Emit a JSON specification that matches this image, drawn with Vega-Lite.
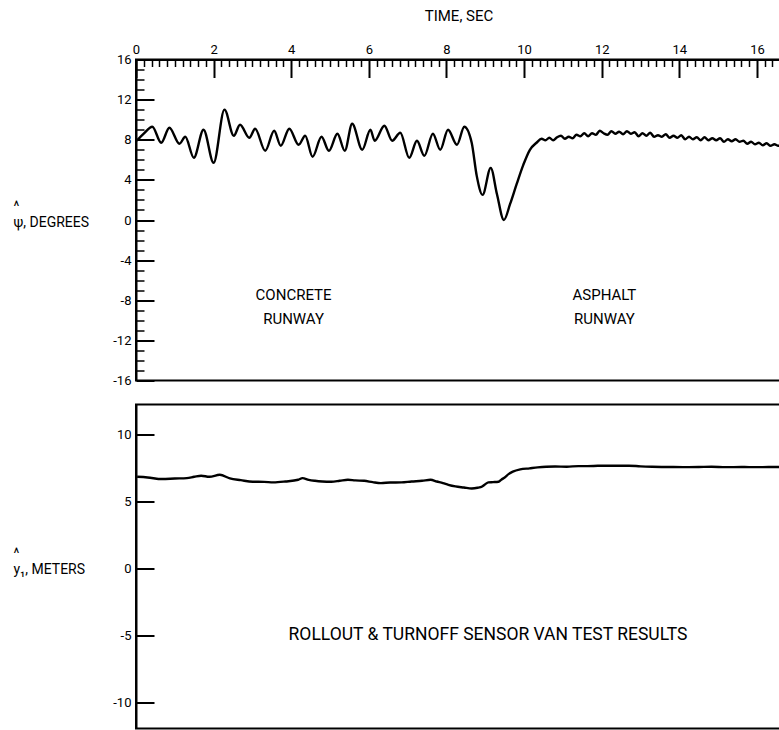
{
  "$schema": "https://vega.github.io/schema/vega-lite/v6.json",
  "background": "white",
  "padding": {"left": 12, "top": 7.5, "right": 0, "bottom": 0},
  "spacing": 15,
  "config": {
    "font": "Roboto, DejaVu Sans, sans-serif",
    "view": {"stroke": "black", "strokeWidth": 2},
    "axis": {
      "grid": false,
      "domainColor": "black",
      "domainWidth": 2,
      "tickColor": "black",
      "tickWidth": 2,
      "labelColor": "black",
      "titleColor": "black",
      "labelFont": "Roboto, DejaVu Sans, sans-serif",
      "titleFont": "Roboto, DejaVu Sans, sans-serif",
      "titleFontWeight": "normal",
      "labelFontSize": 13,
      "titleFontSize": 14
    },
    "text": {"font": "Roboto, DejaVu Sans, sans-serif"}
  },
  "datasets": {
    "psi": [
      {"t": 0.02, "psi": 7.9}, {"t": 0.2, "psi": 8.6}, {"t": 0.42, "psi": 9.3}, {"t": 0.65, "psi": 7.7},
      {"t": 0.86, "psi": 9.2}, {"t": 1.12, "psi": 7.6}, {"t": 1.27, "psi": 8.3}, {"t": 1.49, "psi": 6.2},
      {"t": 1.74, "psi": 9.0}, {"t": 2.0, "psi": 5.7}, {"t": 2.28, "psi": 11.0}, {"t": 2.52, "psi": 8.4},
      {"t": 2.68, "psi": 9.5}, {"t": 2.92, "psi": 8.2}, {"t": 3.07, "psi": 9.1}, {"t": 3.33, "psi": 6.9},
      {"t": 3.56, "psi": 8.9}, {"t": 3.73, "psi": 7.4}, {"t": 3.95, "psi": 9.1}, {"t": 4.19, "psi": 7.5},
      {"t": 4.36, "psi": 8.4}, {"t": 4.55, "psi": 6.3}, {"t": 4.78, "psi": 8.3}, {"t": 4.97, "psi": 6.9},
      {"t": 5.19, "psi": 8.6}, {"t": 5.38, "psi": 6.9}, {"t": 5.57, "psi": 9.6}, {"t": 5.83, "psi": 7.0},
      {"t": 6.04, "psi": 9.0}, {"t": 6.15, "psi": 7.9}, {"t": 6.4, "psi": 9.4}, {"t": 6.6, "psi": 7.9},
      {"t": 6.81, "psi": 8.7}, {"t": 7.04, "psi": 6.2}, {"t": 7.24, "psi": 7.9}, {"t": 7.43, "psi": 6.4},
      {"t": 7.65, "psi": 8.6}, {"t": 7.84, "psi": 7.0}, {"t": 8.04, "psi": 9.0}, {"t": 8.27, "psi": 7.5},
      {"t": 8.46, "psi": 9.3}, {"t": 8.65, "psi": 7.7}, {"t": 8.78, "psi": 4.4}, {"t": 8.93, "psi": 2.5},
      {"t": 9.14, "psi": 5.2}, {"t": 9.3, "psi": 2.6}, {"t": 9.48, "psi": 0.0}, {"t": 9.64, "psi": 1.6},
      {"t": 9.81, "psi": 3.6}, {"t": 9.98, "psi": 5.5}, {"t": 10.15, "psi": 7.0}, {"t": 10.32, "psi": 7.7},
      {"t": 10.45, "psi": 8.1}, {"t": 10.55, "psi": 7.95}, {"t": 10.65, "psi": 8.2}, {"t": 10.75, "psi": 7.95},
      {"t": 10.85, "psi": 8.25}, {"t": 10.95, "psi": 8.4}, {"t": 11.05, "psi": 8.1}, {"t": 11.15, "psi": 8.3},
      {"t": 11.25, "psi": 8.15}, {"t": 11.35, "psi": 8.5}, {"t": 11.45, "psi": 8.35}, {"t": 11.55, "psi": 8.65},
      {"t": 11.65, "psi": 8.35}, {"t": 11.75, "psi": 8.65}, {"t": 11.85, "psi": 8.5}, {"t": 11.95, "psi": 8.9},
      {"t": 12.05, "psi": 8.65}, {"t": 12.15, "psi": 8.5}, {"t": 12.25, "psi": 8.85}, {"t": 12.35, "psi": 8.6},
      {"t": 12.45, "psi": 8.8}, {"t": 12.55, "psi": 8.55}, {"t": 12.65, "psi": 8.85}, {"t": 12.75, "psi": 8.6},
      {"t": 12.85, "psi": 8.75}, {"t": 12.95, "psi": 8.35}, {"t": 13.05, "psi": 8.65}, {"t": 13.15, "psi": 8.4},
      {"t": 13.25, "psi": 8.7}, {"t": 13.35, "psi": 8.3}, {"t": 13.45, "psi": 8.45}, {"t": 13.55, "psi": 8.3},
      {"t": 13.65, "psi": 8.55}, {"t": 13.75, "psi": 8.2}, {"t": 13.85, "psi": 8.4}, {"t": 13.95, "psi": 8.2},
      {"t": 14.05, "psi": 8.45}, {"t": 14.15, "psi": 8.05}, {"t": 14.25, "psi": 8.3}, {"t": 14.35, "psi": 8.05},
      {"t": 14.45, "psi": 8.25}, {"t": 14.55, "psi": 7.95}, {"t": 14.65, "psi": 8.25}, {"t": 14.75, "psi": 7.95},
      {"t": 14.85, "psi": 8.15}, {"t": 14.95, "psi": 7.95}, {"t": 15.05, "psi": 8.15}, {"t": 15.15, "psi": 7.8},
      {"t": 15.25, "psi": 8.05}, {"t": 15.35, "psi": 7.85}, {"t": 15.45, "psi": 8.05}, {"t": 15.55, "psi": 7.8},
      {"t": 15.65, "psi": 7.9}, {"t": 15.75, "psi": 7.6}, {"t": 15.85, "psi": 7.8}, {"t": 15.95, "psi": 7.55},
      {"t": 16.05, "psi": 7.7}, {"t": 16.15, "psi": 7.45}, {"t": 16.25, "psi": 7.65}, {"t": 16.35, "psi": 7.4},
      {"t": 16.45, "psi": 7.55}, {"t": 16.55, "psi": 7.4}, {"t": 16.62, "psi": 7.5}
    ],
    "y1": [
      {"t": 0.03, "y": 6.85}, {"t": 0.3, "y": 6.8}, {"t": 0.67, "y": 6.68}, {"t": 1.0, "y": 6.72},
      {"t": 1.31, "y": 6.75}, {"t": 1.5, "y": 6.85}, {"t": 1.68, "y": 6.93}, {"t": 1.89, "y": 6.85},
      {"t": 2.16, "y": 7.0}, {"t": 2.42, "y": 6.73}, {"t": 2.7, "y": 6.6}, {"t": 3.01, "y": 6.48},
      {"t": 3.3, "y": 6.47}, {"t": 3.54, "y": 6.43}, {"t": 3.85, "y": 6.5}, {"t": 4.18, "y": 6.63},
      {"t": 4.29, "y": 6.75}, {"t": 4.45, "y": 6.62}, {"t": 4.61, "y": 6.55}, {"t": 4.8, "y": 6.5},
      {"t": 5.03, "y": 6.48}, {"t": 5.25, "y": 6.55}, {"t": 5.46, "y": 6.63}, {"t": 5.65, "y": 6.58},
      {"t": 5.88, "y": 6.55}, {"t": 6.1, "y": 6.45}, {"t": 6.31, "y": 6.38}, {"t": 6.55, "y": 6.42},
      {"t": 6.84, "y": 6.43}, {"t": 7.1, "y": 6.5}, {"t": 7.37, "y": 6.55}, {"t": 7.59, "y": 6.63},
      {"t": 7.75, "y": 6.5}, {"t": 7.91, "y": 6.38}, {"t": 8.05, "y": 6.25}, {"t": 8.23, "y": 6.13},
      {"t": 8.45, "y": 6.05}, {"t": 8.65, "y": 5.98}, {"t": 8.8, "y": 6.03}, {"t": 8.92, "y": 6.13},
      {"t": 9.0, "y": 6.3}, {"t": 9.08, "y": 6.43}, {"t": 9.2, "y": 6.45}, {"t": 9.34, "y": 6.48},
      {"t": 9.42, "y": 6.65}, {"t": 9.5, "y": 6.8}, {"t": 9.6, "y": 7.05}, {"t": 9.71, "y": 7.23},
      {"t": 9.9, "y": 7.4}, {"t": 10.14, "y": 7.48}, {"t": 10.35, "y": 7.55}, {"t": 10.57, "y": 7.6},
      {"t": 10.8, "y": 7.62}, {"t": 11.1, "y": 7.6}, {"t": 11.4, "y": 7.65}, {"t": 11.63, "y": 7.65},
      {"t": 11.9, "y": 7.67}, {"t": 12.2, "y": 7.68}, {"t": 12.5, "y": 7.67}, {"t": 12.7, "y": 7.68},
      {"t": 13.0, "y": 7.63}, {"t": 13.3, "y": 7.6}, {"t": 13.76, "y": 7.58}, {"t": 14.1, "y": 7.57},
      {"t": 14.5, "y": 7.58}, {"t": 14.83, "y": 7.6}, {"t": 15.2, "y": 7.57}, {"t": 15.6, "y": 7.58},
      {"t": 16.0, "y": 7.57}, {"t": 16.3, "y": 7.58}, {"t": 16.62, "y": 7.58}
    ],
    "notesTop": [
      {"t": 4.06, "v": -7.5, "label": "CONCRETE"},
      {"t": 4.06, "v": -9.9, "label": "RUNWAY"},
      {"t": 12.07, "v": -7.5, "label": "ASPHALT"},
      {"t": 12.07, "v": -9.9, "label": "RUNWAY"}
    ],
    "notesBottom": [
      {"t": 9.07, "v": -5.0, "label": "ROLLOUT & TURNOFF SENSOR VAN TEST RESULTS"}
    ]
  },
  "vconcat": [
    {
      "width": 645,
      "height": 321,
      "resolve": {"axis": {"x": "independent", "y": "independent"}},
      "layer": [
        {
          "data": {"name": "psi"},
          "mark": {"type": "line", "color": "black", "strokeWidth": 2.4, "interpolate": "monotone"},
          "encoding": {
            "x": {
              "field": "t", "type": "quantitative",
              "scale": {"domain": [0, 16.62], "nice": false, "zero": false},
              "axis": {
                "orient": "top", "title": "TIME, SEC", "values": [0, 2, 4, 6, 8, 10, 12, 14, 16],
                "ticks": false, "labelPadding": 3, "labelFlush": false, "labelFontSize": 13,
                "titleFontSize": 15, "titlePadding": 20
              }
            },
            "y": {
              "field": "psi", "type": "quantitative",
              "scale": {"domain": [-16, 16], "nice": false, "zero": false},
              "axis": {
                "orient": "left", "values": [-16, -12, -8, -4, 0, 4, 8, 12, 16],
                "ticks": false, "labelPadding": 5, "labelFontSize": 13,
                "labelExpr": "replace(datum.label, '\u2212', '-')",
                "title": ["^", "ψ, DEGREES"], "titleAngle": 0, "titleAlign": "left",
                "titleBaseline": "alphabetic", "titleX": -123, "titleY": 151, "titleLineHeight": 16,
                "titleFontSize": 14
              }
            }
          }
        },
        {
          "mark": {"type": "rule", "color": "black", "strokeWidth": 2},
          "encoding": {
            "x": {
              "datum": 0, "type": "quantitative",
              "scale": {"domain": [0, 16.62], "nice": false, "zero": false},
              "axis": {
                "orient": "top", "title": null, "labels": false, "domain": false,
                "values": [0, 2, 4, 6, 8, 10, 12, 14, 16], "tickSize": -18, "tickWidth": 2
              }
            },
            "x2": {"datum": 16.62},
            "y": {
              "datum": 0, "type": "quantitative",
              "scale": {"domain": [-16, 16], "nice": false, "zero": false},
              "axis": {
                "orient": "left", "title": null, "labels": false, "domain": false,
                "values": [-16, -12, -8, -4, 0, 4, 8, 12, 16], "tickSize": -18, "tickWidth": 2
              }
            }
          }
        },
        {
          "data": {"name": "notesTop"},
          "mark": {"type": "text", "color": "black", "fontSize": 15, "align": "center", "baseline": "middle"},
          "encoding": {
            "x": {
              "field": "t", "type": "quantitative",
              "scale": {"domain": [0, 16.62], "nice": false, "zero": false},
              "axis": {
                "orient": "top", "title": null, "labels": false, "domain": false,
                "values": [0.2, 0.4, 0.6, 0.8, 1.0, 1.2, 1.4, 1.6, 1.8, 2.2, 2.4, 2.6, 2.8, 3.0, 3.2, 3.4, 3.6, 3.8, 4.2, 4.4, 4.6, 4.8, 5.0, 5.2, 5.4, 5.6, 5.8, 6.2, 6.4, 6.6, 6.8, 7.0, 7.2, 7.4, 7.6, 7.8, 8.2, 8.4, 8.6, 8.8, 9.0, 9.2, 9.4, 9.6, 9.8, 10.2, 10.4, 10.6, 10.8, 11.0, 11.2, 11.4, 11.6, 11.8, 12.2, 12.4, 12.6, 12.8, 13.0, 13.2, 13.4, 13.6, 13.8, 14.2, 14.4, 14.6, 14.8, 15.0, 15.2, 15.4, 15.6, 15.8, 16.2, 16.4, 16.6],
                "tickSize": -7, "tickWidth": 1.5
              }
            },
            "y": {
              "field": "v", "type": "quantitative",
              "scale": {"domain": [-16, 16], "nice": false, "zero": false},
              "axis": {
                "orient": "left", "title": null, "labels": false, "domain": false,
                "values": [-15, -14, -13, -11, -10, -9, -7, -6, -5, -3, -2, -1, 1, 2, 3, 5, 6, 7, 9, 10, 11, 13, 14, 15],
                "tickSize": -8, "tickWidth": 1.5
              }
            },
            "text": {"field": "label", "type": "nominal"}
          }
        }
      ]
    },
    {
      "width": 645,
      "height": 324,
      "resolve": {"axis": {"y": "independent"}},
      "layer": [
        {
          "data": {"name": "y1"},
          "mark": {"type": "line", "color": "black", "strokeWidth": 2.4, "interpolate": "monotone"},
          "encoding": {
            "x": {
              "field": "t", "type": "quantitative",
              "scale": {"domain": [0, 16.62], "nice": false, "zero": false},
              "axis": null
            },
            "y": {
              "field": "y", "type": "quantitative",
              "scale": {"domain": [-11.95, 12.25], "nice": false, "zero": false},
              "axis": {
                "orient": "left", "values": [-10, -5, 0, 5, 10],
                "ticks": false, "labelPadding": 5, "labelFontSize": 13,
                "labelExpr": "replace(datum.label, '\u2212', '-')",
                "title": ["^", "y₁, METERS"], "titleAngle": 0, "titleAlign": "left",
                "titleBaseline": "alphabetic", "titleX": -123, "titleY": 153, "titleLineHeight": 16,
                "titleFontSize": 14
              }
            }
          }
        },
        {
          "mark": {"type": "rule", "color": "black", "strokeWidth": 2},
          "encoding": {
            "y": {
              "datum": 0, "type": "quantitative",
              "scale": {"domain": [-11.95, 12.25], "nice": false, "zero": false},
              "axis": {
                "orient": "left", "title": null, "labels": false, "domain": false,
                "values": [-10, -5, 0, 5, 10], "tickSize": -18, "tickWidth": 2
              }
            }
          }
        },
        {
          "data": {"name": "notesBottom"},
          "mark": {"type": "text", "color": "black", "fontSize": 17.5, "align": "center", "baseline": "middle"},
          "encoding": {
            "x": {
              "field": "t", "type": "quantitative",
              "scale": {"domain": [0, 16.62], "nice": false, "zero": false},
              "axis": null
            },
            "y": {
              "field": "v", "type": "quantitative",
              "scale": {"domain": [-11.95, 12.25], "nice": false, "zero": false},
              "axis": null
            },
            "text": {"field": "label", "type": "nominal"}
          }
        }
      ]
    }
  ]
}
